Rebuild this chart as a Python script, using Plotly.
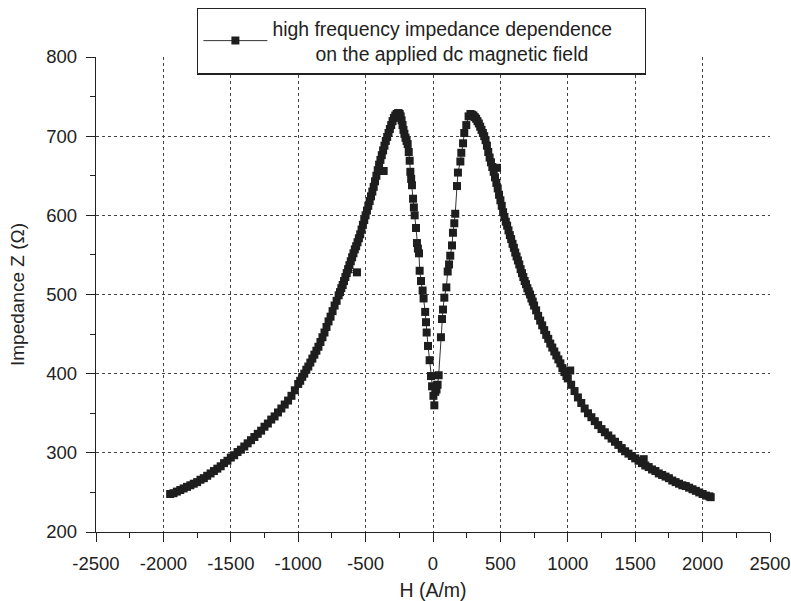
import plotly.graph_objects as go

# Left outer branch (rising towards the left peak)
h_left = [-1950, -1925, -1900, -1875, -1850, -1825, -1800, -1775, -1750, -1725,
          -1700, -1675, -1650, -1625, -1600, -1575, -1550, -1525, -1500, -1475,
          -1450, -1425, -1400, -1375, -1350, -1325, -1300, -1275, -1250, -1225,
          -1200, -1175, -1150, -1125, -1100, -1075, -1050, -1025,
          -1000, -985, -970, -955, -940, -925, -910, -895, -880, -865,
          -850, -835, -820, -805, -790, -775, -760, -745, -730, -715,
          -700, -690, -680, -670, -660, -650, -640, -564, -630, -620,
          -610, -600, -590, -580, -570, -560, -550, -540, -530, -520,
          -510, -500, -490, -480, -470, -460, -450, -440, -430, -420,
          -366, -410, -400, -390, -380, -370, -360, -350, -340, -330,
          -320, -310, -300, -290, -280, -270]
z_left = [248, 249, 251, 253, 255, 257, 259, 261, 263, 266,
          268, 271, 274, 277, 280, 283, 287, 290, 294, 297,
          301, 304, 308, 312, 316, 320, 324, 328, 333, 337,
          342, 346, 351, 356, 361, 366, 372, 379,
          387, 391, 396, 400, 405, 409, 414, 419, 424, 429,
          434, 440, 446, 452, 459, 466, 472, 479, 486, 492,
          499, 503, 508, 512, 517, 522, 527, 528, 532, 537,
          542, 547, 552, 557, 561, 566, 571, 576, 582, 588,
          594, 600, 606, 612, 618, 624, 630, 636, 643, 650,
          656, 657, 664, 670, 676, 682, 688, 694, 699, 704,
          709, 714, 719, 723, 726, 728]

# Central dip between the two peaks
h_mid = [-260, -255, -247, -240, -233, -226, -219, -212, -204, -196, -188,
         -180, -173, -168, -162, -156, -148, -142, -136, -126, -119,
         -112, -104, -99, -89, -77, -70, -58, -52, -47, -37,
         -25, -15, -7, 3, 10, 17, 26, 34, 42, 59,
         67, 74, 84, 99, 109, 119, 128, 141, 148, 158,
         165, 178, 185, 203, 210, 223, 232, 247, 264, 278]
z_mid = [729, 729, 728, 725, 720, 714, 708, 703, 698, 694, 690,
         680, 669, 655, 646, 638, 621, 610, 600, 584, 565,
         558, 552, 530, 517, 505, 495, 478, 465, 452, 435,
         417, 397, 384, 372, 360, 377, 380, 386, 398, 446,
         469, 481, 496, 509, 529, 538, 549, 562, 578, 590,
         602, 637, 654, 668, 679, 691, 704, 714, 725, 728]

# Right outer branch (falling from the right peak)
h_right = [290, 300, 310, 320, 330, 340, 350, 360, 370, 380,
           390, 400, 410, 420, 430, 440, 475, 450, 460, 470,
           480, 490, 500, 510, 520, 530, 540, 550, 560, 570,
           580, 590, 600, 610, 620, 630, 640, 650, 660, 670,
           680, 690, 700, 710, 720, 730, 740, 750, 765, 780,
           795, 810, 825, 840, 855, 870, 885, 900, 915, 930,
           945, 960, 1018, 975, 990, 1000, 1025, 1050, 1075,
           1100, 1125, 1150, 1175, 1200, 1225, 1250, 1275, 1300, 1325,
           1350, 1375, 1400, 1425, 1450, 1475, 1500, 1563, 1525, 1550,
           1575, 1600, 1625, 1650, 1675, 1700, 1725, 1750, 1775, 1800,
           1825, 1850, 1875, 1900, 1925, 1950, 1975, 2000, 2025, 2050,
           2060]
z_right = [727, 726, 724, 722, 719, 716, 712, 708, 704, 700,
           695, 688, 680, 673, 667, 661, 660, 655, 648, 641,
           634, 626, 619, 612, 604, 598, 592, 587, 581, 575,
           570, 564, 559, 553, 548, 543, 538, 532, 527, 522,
           517, 513, 508, 504, 500, 495, 491, 486, 480, 473,
           467, 461, 455, 449, 444, 438, 433, 428, 423, 418,
           413, 407, 404, 402, 397, 394, 386, 378, 370,
           363, 356, 350, 345, 340, 335, 330, 326, 322, 318,
           314, 310, 306, 302, 299, 296, 293, 292, 290, 287,
           284, 282, 279, 277, 274, 272, 270, 268, 265, 263,
           261, 259, 258, 256, 254, 252, 250, 248, 246, 245,
           244]

H = h_left + h_mid + h_right
Z = z_left + z_mid + z_right

x_ticks = [-2500, -2000, -1500, -1000, -500, 0, 500, 1000, 1500, 2000, 2500]
y_ticks = [200, 300, 400, 500, 600, 700, 800]

NB = "\u00a0"
legend_text = ("high frequency impedance dependence" + NB * 5 + "<br>"
               + NB * 8 + "on the applied dc magnetic field")

FONT = "Liberation Sans, Arial, Helvetica, sans-serif"
INK = "#222222"

fig = go.Figure()
fig.add_trace(go.Scatter(
    x=H, y=Z, mode="lines+markers", name=legend_text,
    line=dict(color="#333333", width=1),
    marker=dict(symbol="square", size=8, color="#1e1e1e", line=dict(width=0)),
))

axis_common = dict(
    showline=True, linecolor=INK, linewidth=1.3,
    ticks="outside", ticklen=9, tickwidth=1.3, tickcolor=INK,
    showgrid=True, gridcolor="#444444", gridwidth=1, griddash="dot",
    zeroline=False, mirror=False, automargin=False,
    tickfont=dict(family=FONT, size=18.5, color=INK),
)

fig.update_xaxes(
    range=[-2500, 2500], tickvals=x_ticks, ticktext=[str(v) for v in x_ticks],
    title=dict(text="H (A/m)", standoff=10,
               font=dict(family=FONT, size=19.5, color=INK)),
    ticklabelstandoff=6,
    minor=dict(ticks="outside", ticklen=5, tickwidth=1.3, tickcolor=INK,
               dtick=250, showgrid=False),
    **axis_common,
)
fig.update_yaxes(
    range=[200, 800], tickvals=y_ticks, ticktext=[str(v) for v in y_ticks],
    title=dict(text="Impedance Z (\u03a9)", standoff=16,
               font=dict(family=FONT, size=19, color=INK)),
    ticklabelstandoff=5,
    minor=dict(ticks="outside", ticklen=5, tickwidth=1.3, tickcolor=INK,
               dtick=50, showgrid=False),
    **axis_common,
)

fig.update_layout(
    width=791, height=601,
    margin=dict(l=96, r=21, t=57, b=69, autoexpand=False),
    paper_bgcolor="white", plot_bgcolor="white",
    font=dict(family=FONT, color=INK),
    showlegend=True,
    legend=dict(
        x=0.15, y=1.104, xanchor="left", yanchor="top",
        bgcolor="white", bordercolor=INK, borderwidth=1.3,
        font=dict(family=FONT, size=19.4, color=INK),
        itemwidth=64, tracegroupgap=0,
    ),
)

fig.write_html(
    "out.html",
    config={"displayModeBar": False},
    post_script="document.body.style.margin='0';document.body.style.overflow='hidden';",
)
